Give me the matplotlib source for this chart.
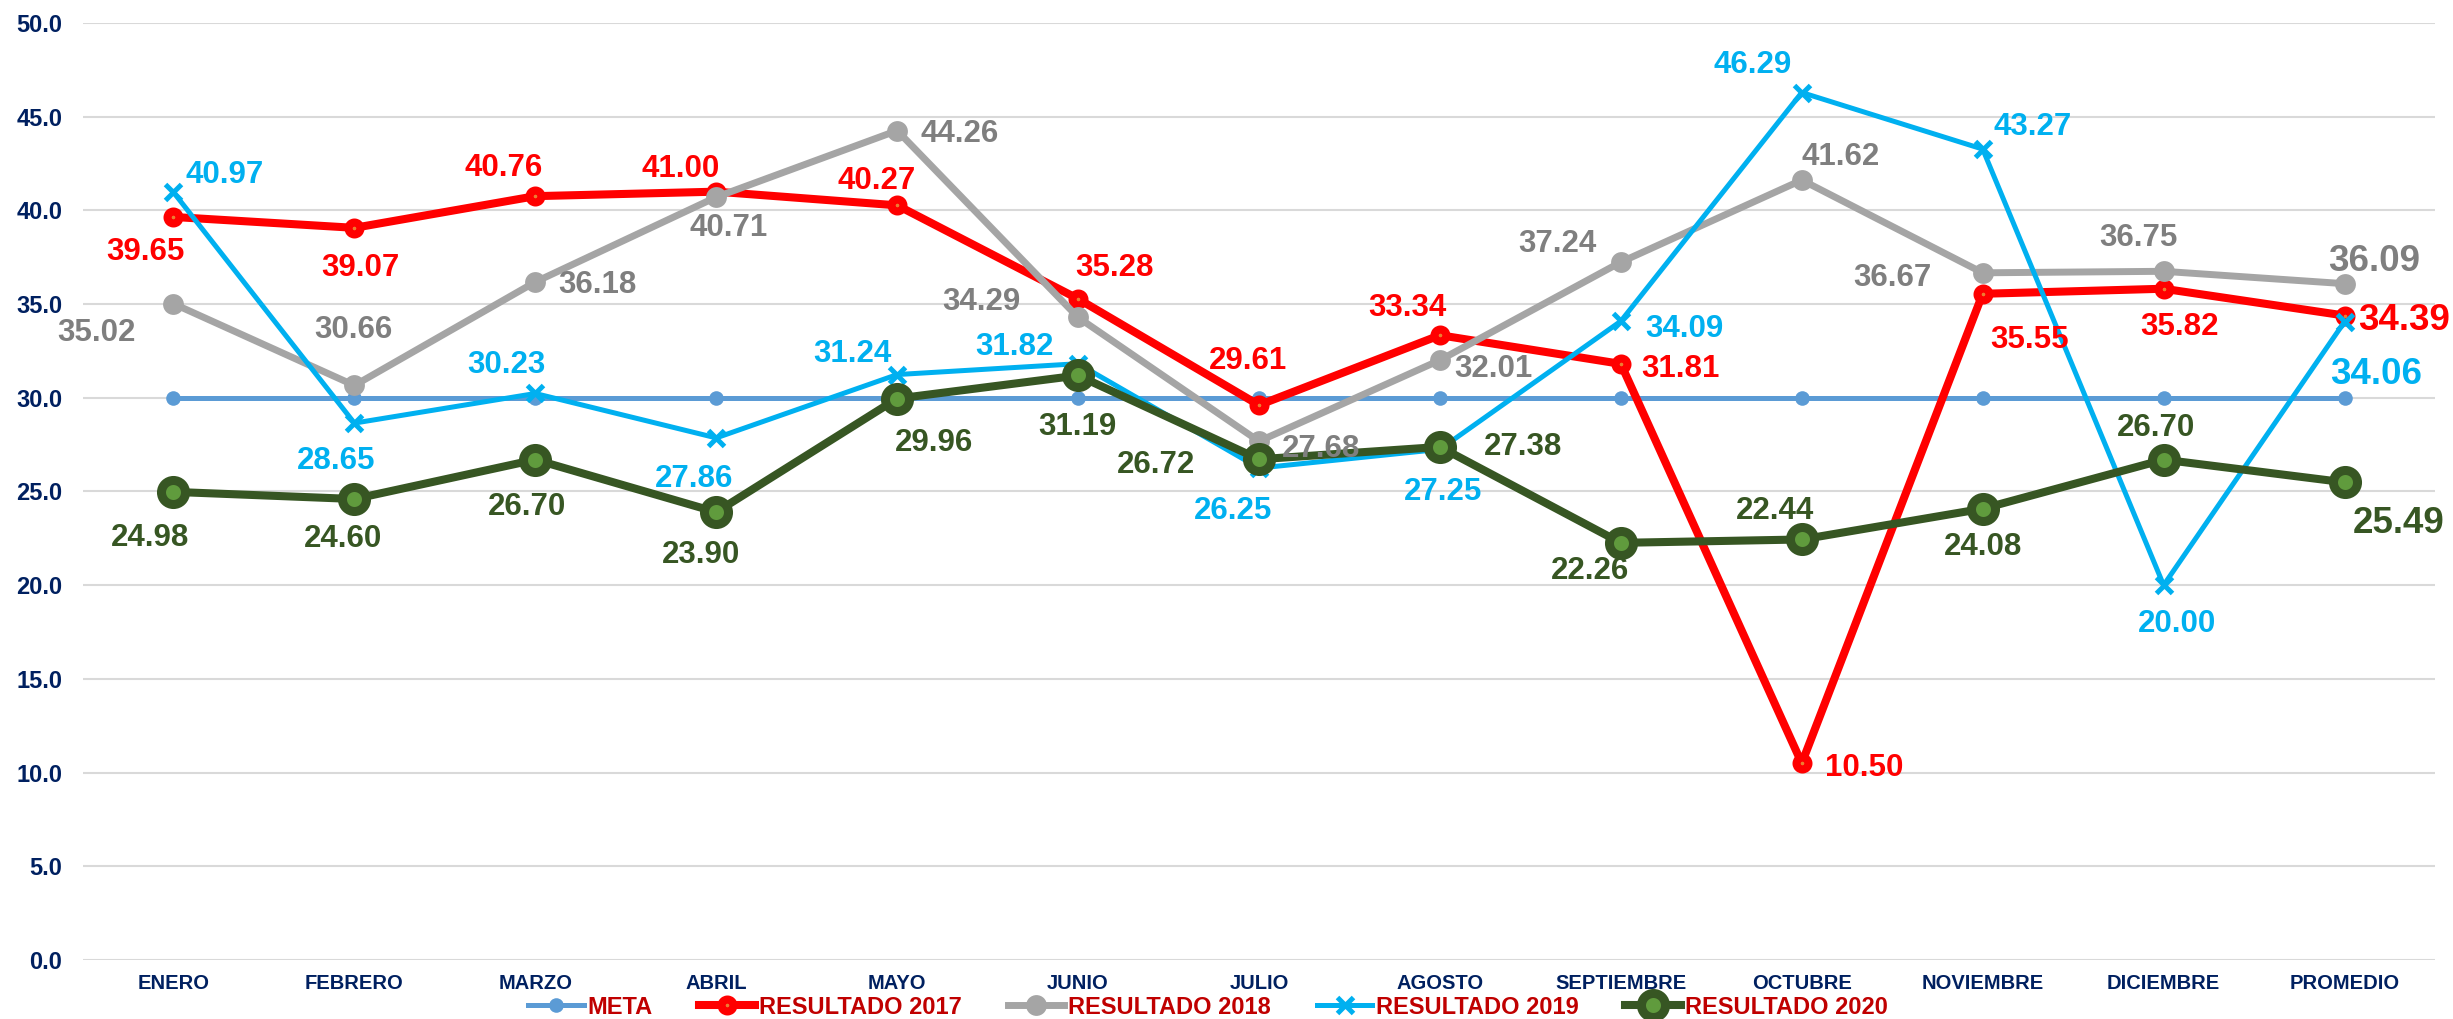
import matplotlib
matplotlib.use("Agg")
import matplotlib.pyplot as plt
from matplotlib.lines import Line2D

plt.rcParams['font.family'] = ['Liberation Sans', 'DejaVu Sans']
plt.rcParams['font.weight'] = 'bold'

# ---------------- data ----------------
months = ["ENERO", "FEBRERO", "MARZO", "ABRIL", "MAYO", "JUNIO", "JULIO",
          "AGOSTO", "SEPTIEMBRE", "OCTUBRE", "NOVIEMBRE", "DICIEMBRE", "PROMEDIO"]
meta = [30.0] * 13
res_2017 = [39.65, 39.07, 40.76, 41.00, 40.27, 35.28, 29.61, 33.34, 31.81, 10.50, 35.55, 35.82, 34.39]
res_2018 = [35.02, 30.66, 36.18, 40.71, 44.26, 34.29, 27.68, 32.01, 37.24, 41.62, 36.67, 36.75, 36.09]
res_2019 = [40.97, 28.65, 30.23, 27.86, 31.24, 31.82, 26.25, 27.25, 34.09, 46.29, 43.27, 20.00, 34.06]
res_2020 = [24.98, 24.60, 26.70, 23.90, 29.96, 31.19, 26.72, 27.38, 22.26, 22.44, 24.08, 26.70, 25.49]
y_ticks = [0, 5, 10, 15, 20, 25, 30, 35, 40, 45, 50]

# label offsets in pixels (dx right, dy down) - layout only
off_2017 = [(-28, 32), (6, 37), (-32, -31), (-36, -26), (-21, -28), (36, -34), (-11, -47),
            (-33, -30), (60, 2), (62, 2), (47, 43), (16, 35), (60, 1)]
off_2018 = [(-77, 26), (-1, -59), (62, 0), (12, 28), (62, 0), (-97, -19), (62, 5),
            (53, 6), (-63, -21), (39, -26), (-90, 2), (-25, -36), (30, -26)]
off_2019 = [(51, -20), (-18, 35), (-29, -32), (-22, 38), (-45, -24), (-64, -20), (-26, 40),
            (3, 39), (64, 5), (-49, -31), (50, -25), (13, 36), (32, 49)]
off_2020 = [(-23, 43), (-11, 37), (-8, 44), (-15, 40), (37, 41), (-1, 48), (-103, 3),
            (83, -3), (-31, 25), (-27, -32), (0, 35), (-8, -35), (54, 38)]

DPI = 100
fig = plt.figure(figsize=(24.53, 10.19), dpi=DPI)
ax = fig.add_axes([83 / 2453, 1 - 960 / 1019, (2435 - 83) / 2453, (960 - 23) / 1019])

x = list(range(len(months)))

ax.plot(x, meta, color='#5B9BD5', lw=3.6, marker='o', ms=10.5, mec='#5B9BD5',
        mfc='#5B9BD5', mew=0, zorder=3, label='META')
ax.plot(x, res_2017, color='#FF0000', lw=5.8, marker='o', ms=8.6, mec='#FF0000',
        mfc='#ED7D31', mew=5.8, zorder=4, label='RESULTADO 2017')
ax.plot(x, res_2018, color='#A5A5A5', lw=5.0, marker='o', ms=15, mec='#A5A5A5',
        mfc='#A5A5A5', mew=0, zorder=5, label='RESULTADO 2018')
ax.plot(x, res_2019, color='#00B0F0', lw=3.6, marker='x', ms=11.5, mec='#00B0F0',
        mew=3.6, zorder=6, label='RESULTADO 2019')
ax.plot(x, res_2020, color='#375623', lw=5.8, marker='o', ms=17.3, mec='#375623',
        mfc='#609B3D', mew=6.5, zorder=7, label='RESULTADO 2020')


def add_labels(vals, offs, color):
    for i, (v, (dx, dy)) in enumerate(zip(vals, offs)):
        fs = 26.5 if i == len(vals) - 1 else 22.5
        half_cap = 0.358 * fs * DPI / 72.0
        ax.annotate(f"{v:.2f}", (i, v), xytext=(dx, -dy - half_cap),
                    textcoords='offset pixels', ha='center', va='baseline',
                    fontsize=fs, fontweight='bold', color=color, zorder=10)


add_labels(res_2017, off_2017, '#FF0000')
add_labels(res_2018, off_2018, '#7F7F7F')
add_labels(res_2019, off_2019, '#00B0F0')
add_labels(res_2020, off_2020, '#375623')

ax.set_xlim(-0.5, len(months) - 0.5)
ax.set_ylim(0, 50)
ax.set_yticks(y_ticks)
ax.set_yticklabels([f"{t:.1f}" for t in y_ticks])
ax.set_xticks(x)
ax.set_xticklabels(months)
ax.tick_params(axis='y', length=0, pad=15, labelsize=17, labelcolor='#002060')
ax.tick_params(axis='x', length=0, pad=10, labelsize=14.5, labelcolor='#002060')
for lbl in ax.get_xticklabels() + ax.get_yticklabels():
    lbl.set_fontweight('bold')

ax.grid(axis='y', color='#D9D9D9', lw=1.5, zorder=0)
ax.set_axisbelow(True)
for s in ax.spines.values():
    s.set_visible(False)

leg = fig.legend(loc='center', bbox_to_anchor=(1208 / 2453, 1 - 1007 / 1019),
                 ncol=5, frameon=False, fontsize=17, handlelength=2.37,
                 handletextpad=0.17, columnspacing=1.95, borderpad=0,
                 prop={'weight': 'bold', 'size': 17})
for t in leg.get_texts():
    t.set_color('#C00000')

fig.savefig("out.png", dpi=DPI)
